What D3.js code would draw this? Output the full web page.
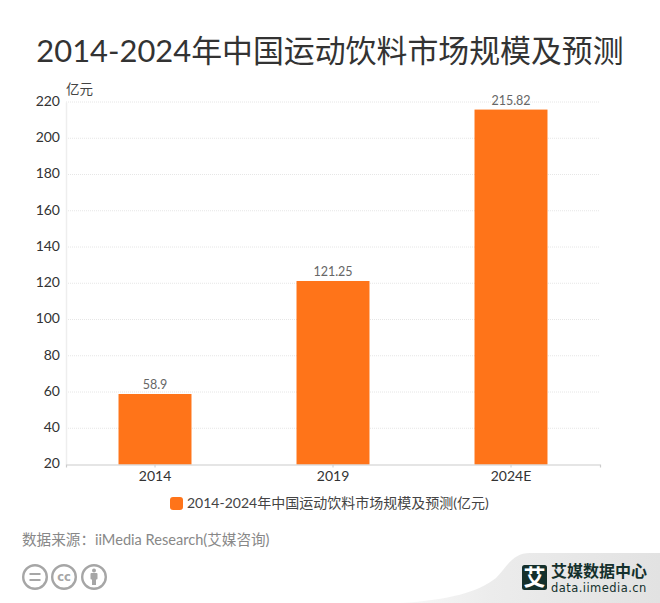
<!DOCTYPE html>
<html>
<head>
<meta charset="utf-8">
<script src="https://cdn.jsdelivr.net/npm/d3@7"></script>
<style>
  html, body { margin: 0; padding: 0; background: #fff; }
  text { font-family: "Lato", "Noto Sans CJK SC", sans-serif; }
</style>
</head>
<body>
<svg id="chart" width="660" height="603"></svg>
<script>
var categories = ["2014", "2019", "2024E"];
var values = [58.9, 121.25, 215.82];
var valueLabels = ["58.9", "121.25", "215.82"];
var yTicks = [20, 40, 60, 80, 100, 120, 140, 160, 180, 200, 220];
var seriesName = "2014-2024年中国运动饮料市场规模及预测(亿元)";

var svg = d3.select("#chart");
var cjk = "'Noto Sans CJK SC', sans-serif";

var x = d3.scaleBand().domain(categories).range([66, 600]).paddingInner(0.59).paddingOuter(0.295);
var y = d3.scaleLinear().domain([20, 220]).range([464.5, 102]);

// title
svg.append("text").attr("x", 330).attr("y", 61.5).attr("text-anchor", "middle")
  .attr("font-size", 30.9).attr("fill", "#333").text("2014-2024年中国运动饮料市场规模及预测");

// unit
svg.append("text").attr("x", 66).attr("y", 94).attr("font-size", 13.5).attr("fill", "#444")
  .style("font-family", cjk).text("亿元");

// grid
svg.append("g").selectAll("line").data(yTicks.slice(1)).join("line")
  .attr("x1", 66).attr("x2", 600)
  .attr("y1", d => y(d)).attr("y2", d => y(d))
  .attr("stroke", "#e6e6e6").attr("stroke-dasharray", "1 1");

// y axis
var yAxis = svg.append("g").attr("transform", "translate(66,0)")
  .call(d3.axisLeft(y).tickValues(yTicks).tickSize(0).tickPadding(6));
yAxis.select(".domain").attr("stroke", "#eeeeee").attr("stroke-width", 1.5);
yAxis.selectAll("text").attr("font-size", 14).attr("fill", "#333").attr("y", -1);

// bars
svg.append("g").selectAll("rect").data(values).join("rect")
  .attr("x", (d, i) => x(categories[i]))
  .attr("width", x.bandwidth())
  .attr("y", d => y(d))
  .attr("height", d => y(20) - y(d))
  .attr("fill", "#ff7419");

// value labels
svg.append("g").selectAll("text").data(values).join("text")
  .attr("x", (d, i) => x(categories[i]) + x.bandwidth() / 2)
  .attr("y", d => y(d) - 5)
  .attr("text-anchor", "middle").attr("font-size", 12.5).attr("fill", "#666")
  .text((d, i) => valueLabels[i]);

// x axis
var xAxis = svg.append("g").attr("transform", "translate(0,464.5)")
  .call(d3.axisBottom(x).tickSize(3).tickPadding(4));
xAxis.select(".domain").attr("stroke", "#cccccc").attr("stroke-width", 1.2);
xAxis.selectAll("line").attr("stroke", "#cccccc");
xAxis.selectAll("text").attr("font-size", 14).attr("fill", "#333");

// legend
svg.append("rect").attr("x", 170).attr("y", 497).attr("width", 13).attr("height", 13)
  .attr("rx", 3).attr("fill", "#ff7419");
svg.append("text").attr("x", 187).attr("y", 508).attr("font-size", 14).attr("fill", "#444")
  .text(seriesName);

// source
svg.append("text").attr("x", 22).attr("y", 544.5).attr("font-size", 14.6).attr("fill", "#888")
  .text("数据来源：iiMedia Research(艾媒咨询)");

// licence icons
var icons = svg.append("g").attr("fill", "none").attr("stroke", "#a6a6a6").attr("stroke-width", 2.4);
[35, 64, 94].forEach(cx => icons.append("circle").attr("cx", cx).attr("cy", 577).attr("r", 11.8));
icons.append("path").attr("d", "M29.5 574H40.5M29.5 580H40.5").attr("stroke-width", 2);
svg.append("text").attr("x", 64).attr("y", 581).attr("text-anchor", "middle")
  .attr("font-size", 11.5).attr("font-weight", 700).attr("fill", "#a6a6a6")
  .style("font-family", "'DejaVu Sans', sans-serif").text("cc");
var person = svg.append("g").attr("fill", "#a6a6a6");
person.append("circle").attr("cx", 94).attr("cy", 570.5).attr("r", 2);
person.append("rect").attr("x", 90.5).attr("y", 573).attr("width", 7).attr("height", 6.5).attr("rx", 1);
person.append("rect").attr("x", 92).attr("y", 578).attr("width", 4).attr("height", 7);

// footer band
var defs = svg.append("defs");
var grad = defs.append("linearGradient").attr("id", "band").attr("x1", 0).attr("x2", 1).attr("y1", 0).attr("y2", 0);
grad.append("stop").attr("offset", 0).attr("stop-color", "#f8f8f8");
grad.append("stop").attr("offset", 0.35).attr("stop-color", "#ececec");
grad.append("stop").attr("offset", 1).attr("stop-color", "#e2e2e2");
svg.append("path")
  .attr("d", "M400 603C450 600 478 592 496 578C506 568 512 553 530 553L660 553L660 603Z")
  .attr("fill", "url(#band)");

// logo
svg.append("rect").attr("x", 522).attr("y", 565).attr("width", 25).attr("height", 25).attr("rx", 2.5).attr("fill", "#14302c");
svg.append("text").attr("x", 534.5).attr("y", 585).attr("text-anchor", "middle")
  .attr("font-size", 22).attr("font-weight", 700).attr("fill", "#fff").style("font-family", cjk).text("艾");
svg.append("text").attr("x", 551).attr("y", 577).attr("font-size", 16).attr("font-weight", 700).attr("fill", "#14302c")
  .style("font-family", cjk).text("艾媒数据中心");
svg.append("text").attr("x", 551).attr("y", 591.5).attr("font-size", 11.5).attr("letter-spacing", 0.45).attr("fill", "#14302c")
  .style("font-family", "'DejaVu Sans', sans-serif").text("data.iimedia.cn");
</script>
</body>
</html>
